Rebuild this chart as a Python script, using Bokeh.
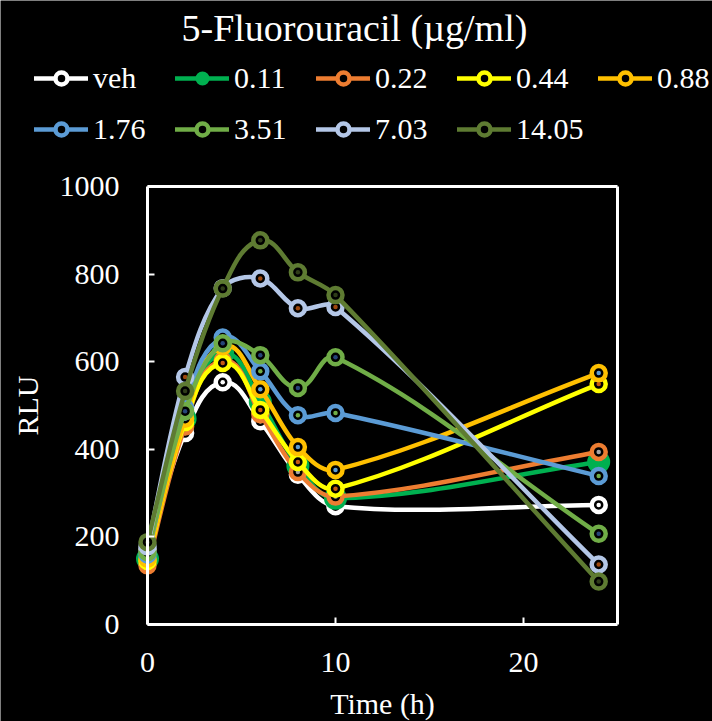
import numpy as np
from bokeh.plotting import figure
from bokeh.models import (ColumnDataSource, Legend, LegendItem, Range1d, FixedTicker,
                          LinearAxis, Label)
from bokeh.embed import file_html
from bokeh.resources import INLINE

# ---------------- data ----------------
times = [0, 2, 4, 6, 8, 10, 24]
labels = ["veh", "0.11", "0.22", "0.44", "0.88", "1.76", "3.51", "7.03", "14.05"]
veh = [172, 437, 553, 464, 342, 270, 273]
c011 = [150, 470, 618, 508, 362, 288, 371]
c022 = [135, 452, 602, 480, 348, 292, 394]
c044 = [145, 462, 597, 490, 371, 310, 549]
c088 = [150, 470, 635, 537, 405, 353, 574]
c176 = [160, 495, 655, 578, 478, 483, 339]
c351 = [165, 487, 642, 615, 540, 610, 207]
c703 = [178, 565, 768, 790, 722, 725, 137]
c1405 = [188, 533, 767, 877, 804, 752, 98]
series = [veh, c011, c022, c044, c088, c176, c351, c703, c1405]
y_ticks = [0, 200, 400, 600, 800, 1000]
x_ticks = [0, 10, 20]

colors = ["#FFFFFF", "#00B050", "#ED7D31", "#FFFF00", "#FFC000",
          "#5B9BD5", "#70AD47", "#B4C7E7", "#5E7B32"]
dot_colors = ["#FFFFFF", None, "#A5A5A5", "#C55A11", "#5B9BD5",
              "#70AD47", "#264478", "#9E480E", "#2E3B18"]

# ---------------- geometry (pixels) ----------------
W, H = 712, 721
X0, X1 = 0, 25          # axis extent (data)
Y0, Y1 = 0, 1000
BOX_L, BOX_R = 147, 617  # plot box in canvas pixels
BOX_T, BOX_B = 186, 624
kx = (BOX_R - BOX_L) / (X1 - X0)
ky = (BOX_B - BOX_T) / (Y1 - Y0)
x_range = Range1d(X0 - BOX_L / kx, X1 + (W - BOX_R) / kx)
y_range = Range1d(Y0 - (H - BOX_B) / ky, Y1 + BOX_T / ky)
FONT = "Liberation Serif"

p = figure(width=W, height=H, output_backend="svg", toolbar_location=None,
           x_range=x_range, y_range=y_range, x_axis_type=None, y_axis_type=None,
           min_border_left=0, min_border_right=0, min_border_top=0,
           min_border_bottom=0, title=None,
           background_fill_color="black", border_fill_color="black",
           outline_line_color=None)
p.grid.visible = False


def style_axis(ax, ticks, show_labels=True):
    ax.ticker = FixedTicker(ticks=ticks)
    ax.axis_line_color = "white"
    ax.axis_line_width = 3
    ax.major_tick_line_color = "white"
    ax.major_tick_line_width = 2
    ax.major_tick_in = 7
    ax.major_tick_out = 0
    ax.minor_tick_line_color = None
    ax.major_label_text_font = FONT
    ax.major_label_text_font_size = "30px"
    ax.major_label_text_color = "white" if show_labels else None
    ax.axis_label_text_font = FONT
    ax.axis_label_text_font_size = "30px"
    ax.axis_label_text_font_style = "normal"
    ax.axis_label_text_color = "white"


xaxis = LinearAxis(fixed_location=Y0, bounds=(X0, X1), axis_label="Time (h)")
style_axis(xaxis, x_ticks)
xaxis.major_label_standoff = 28
xaxis.axis_label_standoff = 12
p.add_layout(xaxis, "below")

yaxis = LinearAxis(fixed_location=X0, bounds=(Y0, Y1), axis_label="RLU")
style_axis(yaxis, y_ticks)
yaxis.major_label_standoff = 28
yaxis.axis_label_standoff = 13
p.add_layout(yaxis, "left")

# box edges on the right and top
raxis = LinearAxis(fixed_location=X1, bounds=(Y0, Y1))
style_axis(raxis, [], show_labels=False)
p.add_layout(raxis, "right")
taxis = LinearAxis(fixed_location=Y1, bounds=(X0, X1))
style_axis(taxis, [], show_labels=False)
p.add_layout(taxis, "above")

title = Label(x=181, y=H - 27, x_units="screen", y_units="screen",
              text="5-Fluorouracil (µg/ml)", text_font=FONT, text_font_size="38px",
              text_color="white", text_baseline="middle", text_align="left")
p.add_layout(title)


def smooth_segments(xs, ys):
    """Bezier control points for a smooth curve through the data points."""
    P = np.column_stack([np.array(xs, float) * kx, np.array(ys, float) * ky])
    n = len(P)
    T = np.zeros_like(P)
    for i in range(n):
        a = P[max(i - 1, 0)]
        b = P[min(i + 1, n - 1)]
        d = b - a
        T[i] = d / (np.hypot(*d) + 1e-9)
    x0, y0, x1, y1, cx0, cy0, cx1, cy1 = ([] for _ in range(8))
    for i in range(n - 1):
        L = np.hypot(*(P[i + 1] - P[i]))
        c0 = P[i] + T[i] * L * 0.33
        c1 = P[i + 1] - T[i + 1] * L * 0.33
        x0.append(xs[i]); y0.append(ys[i])
        x1.append(xs[i + 1]); y1.append(ys[i + 1])
        cx0.append(c0[0] / kx); cy0.append(c0[1] / ky)
        cx1.append(c1[0] / kx); cy1.append(c1[1] / ky)
    return dict(x0=x0, y0=y0, x1=x1, y1=y1, cx0=cx0, cy0=cy0, cx1=cx1, cy1=cy1)


items = []
for lab, ys, col, dc in zip(labels, series, colors, dot_colors):
    seg = ColumnDataSource(smooth_segments(times, ys))
    r_line = p.bezier(x0="x0", y0="y0", x1="x1", y1="y1", cx0="cx0", cy0="cy0",
                      cx1="cx1", cy1="cy1", source=seg, line_color=col,
                      line_width=4.5, line_cap="round")
    src = ColumnDataSource(dict(x=times, y=ys))
    if dc is None:
        r_m = p.scatter("x", "y", source=src, marker="circle", size=21,
                        fill_color=col, line_color=col, line_width=2)
    else:
        r_m = p.scatter("x", "y", source=src, marker="circle", size=14,
                        fill_color="black", line_color=col, line_width=4.5)
        p.scatter("x", "y", source=src, marker="circle", size=4.5,
                  fill_color=dc, line_color=None)
    items.append(LegendItem(label=lab, renderers=[r_line, r_m]))

legend = Legend(items=items, location=(34, H - 148), orientation="horizontal",
                ncols=5, glyph_width=54, glyph_height=30, label_height=39,
                label_width=70, label_standoff=5, spacing=12, padding=0,
                margin=0, border_line_alpha=0, background_fill_alpha=0,
                label_text_font=FONT, label_text_font_size="30px",
                label_text_color="white", label_text_baseline="middle")
p.add_layout(legend)

open("out.html", "w").write(file_html(p, INLINE))
